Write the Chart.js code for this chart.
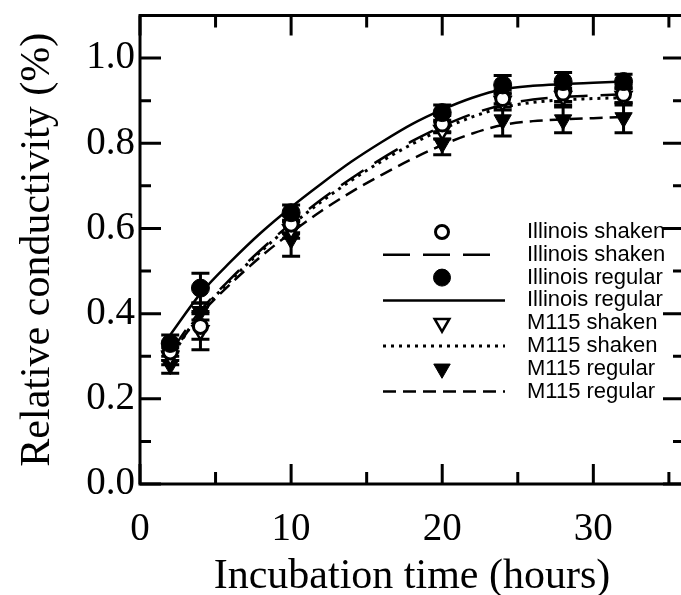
<!DOCTYPE html>
<html>
<head>
<meta charset="utf-8">
<script src="https://cdn.jsdelivr.net/npm/chart.js@4.4.1/dist/chart.umd.min.js"></script>
<style>
  html, body { margin: 0; padding: 0; background: #fff; overflow: hidden; }
  #wrap { width: 681px; height: 595px; overflow: hidden; }
</style>
</head>
<body>
<div id="wrap"><canvas id="grafico" width="700" height="595"></canvas></div>
<script>
// Tempos de medição (horas)
const tempos = [2, 4, 10, 20, 24, 28, 32];

// Médias observadas
const illinoisShaken = [0.31, 0.37, 0.61, 0.845, 0.905, 0.918, 0.915];
const illinoisRegular = [0.33, 0.46, 0.637, 0.872, 0.937, 0.945, 0.945];
const m115Shaken = [0.30, 0.36, 0.597, 0.83, 0.898, 0.91, 0.91];
const m115Regular = [0.28, 0.405, 0.575, 0.80, 0.855, 0.855, 0.86];

// Erros (meia barra)
const erroIllinoisShaken = [0.02, 0.03, 0.02, 0.02, 0.02, 0.02, 0.02];
const erroIllinoisRegular = [0.02, 0.035, 0.018, 0.018, 0.022, 0.021, 0.017];
const erroM115Shaken = [0.02, 0.045, 0.02, 0.02, 0.02, 0.02, 0.02];
const erroM115Regular = [0.02, 0.02, 0.04, 0.027, 0.038, 0.03, 0.035];

// Curvas ajustadas
const temposCurva = [2, 4, 6, 8, 10, 12, 14, 16, 18, 20, 22, 24, 26, 28, 30, 32];
const ajusteIllinoisShaken = [0.31, 0.407, 0.482, 0.55, 0.612, 0.668, 0.718, 0.764, 0.805, 0.84, 0.869, 0.89, 0.903, 0.909, 0.912, 0.915];
const ajusteIllinoisRegular = [0.35, 0.447, 0.522, 0.59, 0.65, 0.705, 0.757, 0.803, 0.845, 0.879, 0.907, 0.927, 0.935, 0.939, 0.942, 0.945];
const ajusteM115Shaken = [0.295, 0.402, 0.478, 0.546, 0.607, 0.663, 0.713, 0.758, 0.798, 0.833, 0.862, 0.884, 0.896, 0.902, 0.905, 0.907];
const ajusteM115Regular = [0.30, 0.398, 0.47, 0.534, 0.59, 0.641, 0.686, 0.726, 0.763, 0.796, 0.823, 0.843, 0.852, 0.856, 0.859, 0.862];

// Eixos
const ticksX = [0, 10, 20, 30];
const ticksY = [0, 0.2, 0.4, 0.6, 0.8, 1.0];
const marcasX = [0, 5, 10, 15, 20, 25, 30, 35];
const marcasY = [0, 0.1, 0.2, 0.3, 0.4, 0.5, 0.6, 0.7, 0.8, 0.9, 1.0, 1.1];

// Legenda
const legendaTextos = ['Illinois shaken', 'Illinois shaken', 'Illinois regular', 'Illinois regular',
                       'M115 shaken', 'M115 shaken', 'M115 regular', 'M115 regular'];

const SERIF = '"Liberation Serif", "Times New Roman", serif';
const SANS = '"Liberation Sans", Arial, sans-serif';

const pares = (xs, ys) => xs.map((x, i) => ({x: x, y: ys[i]}));

const estilos = {
    illShak: {pointStyle: 'circle', radius: 7, fill: '#fff', bw: 3, rot: 0},
    illReg: {pointStyle: 'circle', radius: 9, fill: '#000', bw: 1, rot: 0},
    m115Shak: {pointStyle: 'triangle', radius: 9, fill: '#fff', bw: 2.5, rot: 180},
    m115Reg: {pointStyle: 'triangle', radius: 10, fill: '#000', bw: 1, rot: 180}
};
const tracos = {
    illShak: {dash: [27, 13], largura: 2.5},
    illReg: {dash: [], largura: 2.5},
    m115Shak: {dash: [3, 5], largura: 3},
    m115Reg: {dash: [13, 7], largura: 2.5}
};

function serieMarcador(dados, erros, e) {
    return {
        type: 'scatter',
        data: pares(tempos, dados),
        erros: erros,
        showLine: false,
        pointStyle: e.pointStyle,
        pointRadius: e.radius,
        pointRotation: e.rot,
        pointBackgroundColor: e.fill,
        pointBorderColor: '#000',
        pointBorderWidth: e.bw
    };
}

function serieCurva(dados, t) {
    return {
        type: 'line',
        data: pares(temposCurva, dados),
        borderColor: '#000',
        borderWidth: t.largura,
        borderDash: t.dash,
        pointRadius: 0,
        fill: false,
        cubicInterpolationMode: 'monotone'
    };
}

// Barras de erro
const barrasErro = {
    id: 'barrasErro',
    beforeDatasetsDraw(chart) {
        const ctx = chart.ctx;
        const sx = chart.scales.x, sy = chart.scales.y;
        ctx.save();
        ctx.strokeStyle = '#000';
        ctx.lineWidth = 3;
        chart.data.datasets.forEach(ds => {
            if (!ds.erros) return;
            ds.data.forEach((p, i) => {
                const px = sx.getPixelForValue(p.x);
                const top = sy.getPixelForValue(p.y + ds.erros[i]);
                const bot = sy.getPixelForValue(p.y - ds.erros[i]);
                ctx.beginPath();
                ctx.moveTo(px, top); ctx.lineTo(px, bot);
                ctx.moveTo(px - 9, top); ctx.lineTo(px + 9, top);
                ctx.moveTo(px - 9, bot); ctx.lineTo(px + 9, bot);
                ctx.stroke();
            });
        });
        ctx.restore();
    }
};

// Moldura com marcas internas
const moldura = {
    id: 'moldura',
    afterDatasetsDraw(chart) {
        const ctx = chart.ctx;
        const a = chart.chartArea;
        const sx = chart.scales.x, sy = chart.scales.y;
        ctx.save();
        ctx.strokeStyle = '#000';
        ctx.lineWidth = 3;
        ctx.setLineDash([]);
        ctx.strokeRect(a.left, a.top, a.right - a.left, a.bottom - a.top);
        ctx.beginPath();
        marcasY.forEach(v => {
            const py = sy.getPixelForValue(v);
            const len = Math.round(v * 10) % 2 === 0 ? 21 : 11;
            ctx.moveTo(a.left, py); ctx.lineTo(a.left + len, py);
            ctx.moveTo(a.right, py); ctx.lineTo(a.right - len, py);
        });
        marcasX.forEach(v => {
            const px = sx.getPixelForValue(v);
            const len = v % 10 === 0 ? 20 : 12;
            ctx.moveTo(px, a.bottom); ctx.lineTo(px, a.bottom - len);
            ctx.moveTo(px, a.top); ctx.lineTo(px, a.top + len);
        });
        ctx.stroke();
        ctx.restore();
    }
};

// Legenda desenhada à mão
const legenda = {
    id: 'legenda',
    afterDraw(chart) {
        const ctx = chart.ctx;
        const ordem = ['illShak', 'illShak', 'illReg', 'illReg', 'm115Shak', 'm115Shak', 'm115Reg', 'm115Reg'];
        ctx.save();
        legendaTextos.forEach((texto, i) => {
            const y = 232 + i * 22.8;
            const chave = ordem[i];
            if (i % 2 === 0) {
                const e = estilos[chave];
                ctx.fillStyle = e.fill;
                ctx.strokeStyle = '#000';
                ctx.lineWidth = e.bw;
                Chart.helpers.drawPoint(ctx, {pointStyle: e.pointStyle, radius: e.radius - 0.5, rotation: e.rot, borderWidth: e.bw}, 442, y);
            } else {
                ctx.strokeStyle = '#000';
                ctx.lineWidth = tracos[chave].largura;
                ctx.setLineDash(tracos[chave].dash);
                ctx.beginPath();
                ctx.moveTo(383, y);
                ctx.lineTo(chave === 'illShak' ? 494 : 505, y);
                ctx.stroke();
                ctx.setLineDash([]);
            }
            ctx.fillStyle = '#000';
            ctx.font = '22px ' + SANS;
            ctx.textBaseline = 'middle';
            ctx.textAlign = 'left';
            ctx.fillText(texto, 527, y);
        });
        ctx.restore();
    }
};

const ctx = document.getElementById('grafico').getContext('2d');
new Chart(ctx, {
    type: 'scatter',
    data: {
        datasets: [
            serieMarcador(illinoisRegular, erroIllinoisRegular, estilos.illReg),
            serieMarcador(illinoisShaken, erroIllinoisShaken, estilos.illShak),
            serieMarcador(m115Shaken, erroM115Shaken, estilos.m115Shak),
            serieMarcador(m115Regular, erroM115Regular, estilos.m115Reg),
            serieCurva(ajusteIllinoisRegular, tracos.illReg),
            serieCurva(ajusteIllinoisShaken, tracos.illShak),
            serieCurva(ajusteM115Shaken, tracos.m115Shak),
            serieCurva(ajusteM115Regular, tracos.m115Reg)
        ]
    },
    options: {
        responsive: false,
        devicePixelRatio: 1,
        animation: false,
        layout: { padding: { top: 15.5, right: 16, left: 0, bottom: 0 } },
        plugins: {
            legend: { display: false },
            tooltip: { enabled: false }
        },
        scales: {
            x: {
                type: 'linear',
                min: 0,
                max: 36,
                afterBuildTicks: s => { s.ticks = ticksX.map(v => ({value: v})); },
                afterFit: s => { s.height = 111; s.paddingLeft = 0; s.paddingRight = 0; },
                grid: { display: false, drawTicks: false },
                border: { display: false },
                ticks: { color: '#000', padding: 22, maxRotation: 0, font: { family: SERIF, size: 39 } },
                title: {
                    display: true,
                    text: 'Incubation time (hours)',
                    color: '#000',
                    font: { family: SERIF, size: 42, lineHeight: 1 },
                    padding: { top: 0, bottom: -3 }
                }
            },
            y: {
                min: 0,
                max: 1.1,
                afterBuildTicks: s => { s.ticks = ticksY.map(v => ({value: v})); },
                afterFit: s => { s.width = 140; s.paddingTop = 0; s.paddingBottom = 0; },
                grid: { display: false, drawTicks: false },
                border: { display: false },
                ticks: { color: '#000', padding: 5, font: { family: SERIF, size: 39 }, callback: v => v.toFixed(1) },
                title: {
                    display: true,
                    text: 'Relative conductivity (%)',
                    color: '#000',
                    font: { family: SERIF, size: 42, lineHeight: 1 },
                    padding: { top: 17, bottom: 0 }
                }
            }
        }
    },
    plugins: [barrasErro, moldura, legenda]
});
</script>
</body>
</html>
